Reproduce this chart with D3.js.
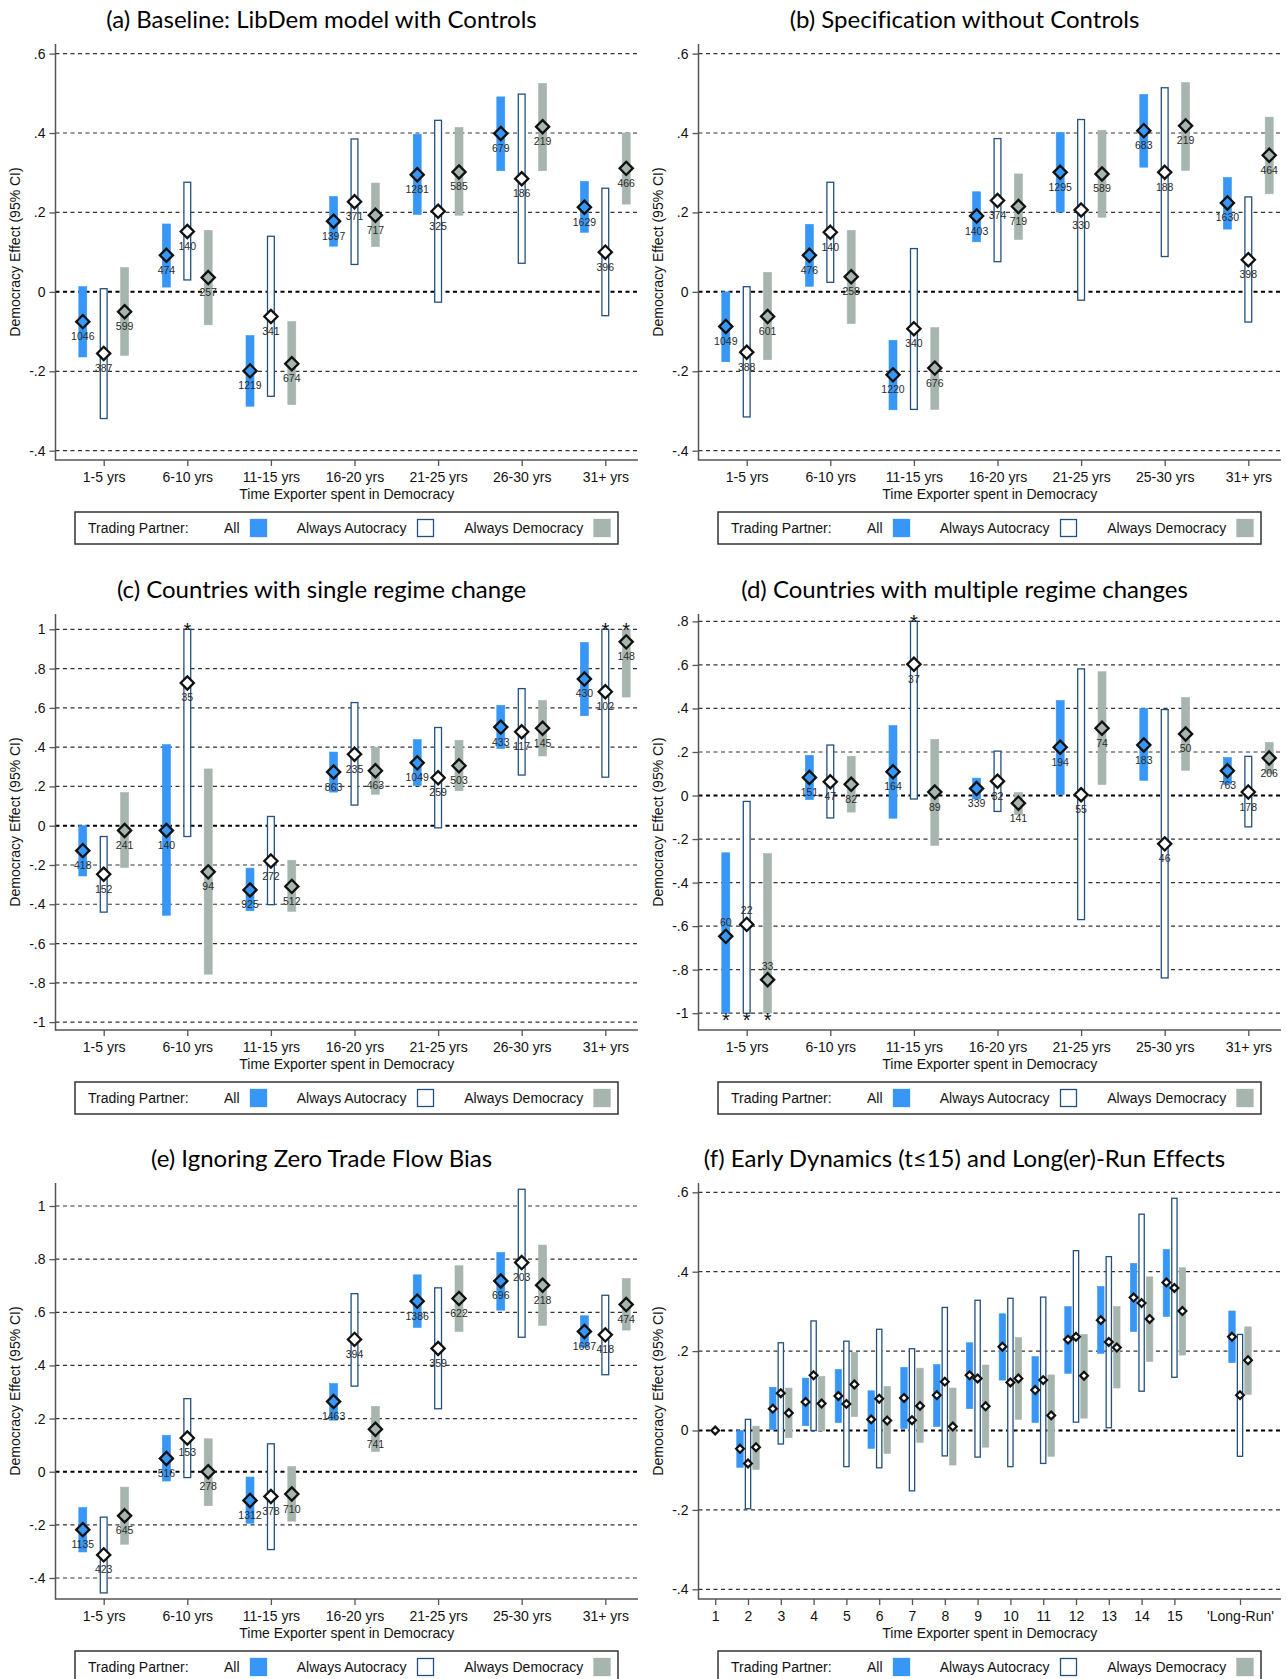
<!DOCTYPE html>
<html>
<head>
<meta charset="utf-8">
<script src="https://cdn.jsdelivr.net/npm/d3@7"></script>
<style>
  body { margin: 0; background: #fff; }
  svg { display: block; }
  text { font-family: "Liberation Sans", Arial, sans-serif; }
  .ptitle { font-family: Lato, "Open Sans", sans-serif; font-size: 24px; font-variant-ligatures: none; }
</style>
</head>
<body>
<script>
// rows are [estimate, lower 95% CI, upper 95% CI, N]
var catsA = ['1-5 yrs', '6-10 yrs', '11-15 yrs', '16-20 yrs', '21-25 yrs', '26-30 yrs', '31+ yrs'];
var catsB = ['1-5 yrs', '6-10 yrs', '11-15 yrs', '16-20 yrs', '21-25 yrs', '25-30 yrs', '31+ yrs'];

var aAll  = [[-0.075,-0.164,0.013,1046],[0.092,0.012,0.171,474],[-0.199,-0.288,-0.110,1219],[0.178,0.115,0.240,1397],[0.295,0.195,0.397,1281],[0.399,0.305,0.491,679],[0.213,0.150,0.278,1629]];
var aAuto = [[-0.155,-0.319,0.008,387],[0.152,0.030,0.276,140],[-0.062,-0.263,0.140,341],[0.227,0.069,0.385,371],[0.203,-0.026,0.432,325],[0.285,0.072,0.498,186],[0.100,-0.060,0.261,396]];
var aDem  = [[-0.050,-0.160,0.061,599],[0.036,-0.083,0.155,257],[-0.181,-0.284,-0.075,674],[0.193,0.114,0.274,717],[0.302,0.193,0.414,585],[0.416,0.305,0.525,219],[0.311,0.221,0.400,466]];

var bAll  = [[-0.087,-0.176,0.0,1049],[0.092,0.014,0.170,476],[-0.209,-0.297,-0.122,1220],[0.191,0.126,0.252,1403],[0.301,0.201,0.401,1295],[0.406,0.314,0.497,683],[0.224,0.158,0.288,1630]];
var bAuto = [[-0.152,-0.315,0.013,388],[0.150,0.024,0.276,140],[-0.093,-0.296,0.109,340],[0.230,0.076,0.386,374],[0.206,-0.021,0.434,330],[0.301,0.089,0.514,188],[0.081,-0.076,0.239,398]];
var bDem  = [[-0.062,-0.171,0.049,601],[0.038,-0.080,0.155,258],[-0.192,-0.296,-0.090,676],[0.215,0.132,0.297,719],[0.297,0.188,0.407,589],[0.418,0.306,0.527,219],[0.344,0.247,0.440,464]];

var cAll  = [[-0.127,-0.256,0.0,418],[-0.024,-0.456,0.413,140],[-0.327,-0.433,-0.216,925],[0.273,0.171,0.375,863],[0.320,0.204,0.438,1049],[0.502,0.393,0.613,433],[0.747,0.560,0.933,430]];
var cAuto = [[-0.247,-0.440,-0.055,152],[0.727,-0.055,1.0,35],[-0.180,-0.402,0.047,272],[0.364,0.105,0.627,235],[0.244,-0.011,0.500,259],[0.478,0.258,0.698,117],[0.682,0.247,1.0,102]];
var cDem  = [[-0.024,-0.213,0.169,241],[-0.235,-0.756,0.289,94],[-0.309,-0.436,-0.176,512],[0.280,0.160,0.400,463],[0.305,0.178,0.435,503],[0.496,0.355,0.638,145],[0.936,0.655,1.0,148]];
var cStars = [[1,'auto','top'],[6,'auto','top'],[6,'dem','top']];

var dAll  = [[-0.647,-1.0,-0.263,60],[0.083,-0.019,0.185,151],[0.109,-0.104,0.321,164],[0.032,-0.016,0.080,339],[0.222,0.004,0.437,194],[0.232,0.070,0.400,183],[0.114,0.052,0.175,763]];
var dAuto = [[-0.592,-1.0,-0.027,22],[0.063,-0.103,0.232,47],[0.603,-0.016,0.8,37],[0.066,-0.073,0.204,32],[0.004,-0.570,0.582,55],[-0.222,-0.838,0.395,46],[0.016,-0.144,0.180,178]];
var dDem  = [[-0.846,-1.0,-0.267,33],[0.052,-0.076,0.180,82],[0.016,-0.229,0.258,89],[-0.035,-0.088,0.014,141],[0.309,0.050,0.569,74],[0.283,0.116,0.450,50],[0.172,0.101,0.244,206]];
var dStars = [[0,'all','bottom'],[0,'auto','bottom'],[0,'dem','bottom'],[2,'auto','top']];
var dLabelsAbove = [0];

var eAll  = [[-0.218,-0.302,-0.135,1135],[0.050,-0.035,0.137,516],[-0.108,-0.194,-0.020,1312],[0.264,0.194,0.332,1463],[0.642,0.543,0.741,1386],[0.718,0.608,0.825,696],[0.528,0.468,0.587,1687]];
var eAuto = [[-0.313,-0.456,-0.171,423],[0.127,-0.022,0.275,153],[-0.093,-0.293,0.105,378],[0.498,0.322,0.670,394],[0.464,0.237,0.692,359],[0.787,0.506,1.063,203],[0.515,0.365,0.664,418]];
var eDem  = [[-0.166,-0.273,-0.058,645],[0.0,-0.128,0.124,278],[-0.084,-0.186,0.019,710],[0.160,0.076,0.246,741],[0.652,0.528,0.775,622],[0.702,0.551,0.853,218],[0.629,0.533,0.727,474]];

// panel f: years 2..15 and the 'Long-Run' slot at 17; year 1 is the reference
var fTicks = [1,2,3,4,5,6,7,8,9,10,11,12,13,14,15,17];
var fTickLabels = ['1','2','3','4','5','6','7','8','9','10','11','12','13','14','15',"'Long-Run'"];
var fPeriods = [2,3,4,5,6,7,8,9,10,11,12,13,14,15,17];
var fRef = [1, 0];
var fAll  = [[-0.046,-0.093,0.0],[0.055,0.002,0.109],[0.072,0.012,0.132],[0.087,0.020,0.154],[0.028,-0.045,0.100],[0.082,0.005,0.159],[0.089,0.010,0.166],[0.139,0.055,0.221],[0.211,0.127,0.294],[0.102,0.020,0.186],[0.229,0.144,0.312],[0.278,0.194,0.363],[0.335,0.249,0.421],[0.373,0.287,0.456],[0.236,0.171,0.301]];
var fAuto = [[-0.083,-0.197,0.028],[0.094,-0.034,0.221],[0.139,0.0,0.276],[0.067,-0.091,0.225],[0.080,-0.094,0.255],[0.026,-0.152,0.206],[0.123,-0.064,0.310],[0.131,-0.067,0.328],[0.121,-0.091,0.333],[0.127,-0.083,0.336],[0.236,0.021,0.453],[0.223,0.007,0.438],[0.321,0.099,0.545],[0.359,0.134,0.585],[0.089,-0.065,0.242]];
var fDem  = [[-0.042,-0.098,0.011],[0.044,-0.018,0.107],[0.068,-0.001,0.136],[0.116,0.035,0.197],[0.025,-0.058,0.111],[0.062,-0.030,0.157],[0.010,-0.087,0.107],[0.061,-0.042,0.165],[0.131,0.028,0.234],[0.038,-0.065,0.140],[0.138,0.031,0.242],[0.209,0.107,0.312],[0.281,0.174,0.387],[0.301,0.190,0.410],[0.177,0.091,0.261]];

var ticks46 = [-0.4,-0.2,0,0.2,0.4,0.6];
var ticks11 = [-1,-0.8,-0.6,-0.4,-0.2,0,0.2,0.4,0.6,0.8,1];
var ticks108 = [-1,-0.8,-0.6,-0.4,-0.2,0,0.2,0.4,0.6,0.8];
var ticks41 = [-0.4,-0.2,0,0.2,0.4,0.6,0.8,1];

var blue = '#3897f6', gray = '#a6b6ae', navy = '#24507e';

var svg = d3.select('body').append('svg').attr('width', 1286).attr('height', 1679);

// Stata style numbers: .6, -.2, 0, 1
function stataFmt(v) {
  if (Math.abs(v) < 1e-9) return '0';
  if (Number.isInteger(v)) return String(v);
  return String(+v.toFixed(1)).replace(/^(-?)0\./, '$1.');
}

function diamond(r) {
  return 'M0,' + (-r) + 'L' + r + ',0L0,' + r + 'L' + (-r) + ',0Z';
}

// plot box inside each panel (window.top is reserved, hence plotTop)
var plotLeft = 55.5, plotRight = 638, plotTop = 44, plotBottom = 460;

function drawPanel(p) {
  var g = svg.append('g').attr('transform', 'translate(' + p.ox + ',' + p.oy + ')');
  var y = d3.scaleLinear().domain(p.yDomain).range(p.yRange);
  var x = d3.scaleLinear().domain(p.xDomain).range(p.xRange);

  g.append('text').attr('class', 'ptitle')
    .attr('x', 321.5).attr('y', 27.5).attr('text-anchor', 'middle')
    .text(p.title);

  // gridlines
  g.selectAll('line.grid').data(p.yTicks).join('line')
    .attr('class', 'grid')
    .attr('x1', plotLeft).attr('x2', plotRight)
    .attr('y1', function(d) { return y(d); }).attr('y2', function(d) { return y(d); })
    .attr('stroke', function(d) { return d === 0 ? '#000' : '#333'; })
    .attr('stroke-width', function(d) { return d === 0 ? 2 : 1.2; })
    .attr('stroke-dasharray', '4,3.5');

  // axes
  var yAxis = d3.axisLeft(y).tickValues(p.yTicks).tickFormat(stataFmt).tickSize(6).tickPadding(4);
  var ya = g.append('g').attr('transform', 'translate(' + plotLeft + ',0)').call(yAxis);
  var xAxis = d3.axisBottom(x).tickValues(p.xTicks)
    .tickFormat(function(d, i) { return p.xLabels[i]; })
    .tickSize(6).tickPadding(6.5);
  var xa = g.append('g').attr('transform', 'translate(0,' + plotBottom + ')').call(xAxis);
  [ya, xa].forEach(function(a) {
    a.select('.domain').remove();
    a.selectAll('line').attr('stroke', '#555').attr('stroke-width', 1.3);
    a.selectAll('text').attr('font-size', 14).attr('fill', '#111')
      .style('font-family', '"Liberation Sans", Arial, sans-serif');
  });
  g.append('line').attr('x1', plotLeft).attr('x2', plotLeft).attr('y1', plotTop).attr('y2', plotBottom + 0.7)
    .attr('stroke', '#555').attr('stroke-width', 1.5);
  g.append('line').attr('x1', plotLeft).attr('x2', plotRight).attr('y1', plotBottom).attr('y2', plotBottom)
    .attr('stroke', '#555').attr('stroke-width', 1.5);

  g.append('text').attr('transform', 'rotate(-90)')
    .attr('x', -(plotTop + plotBottom) / 2).attr('y', 14.5)
    .attr('text-anchor', 'middle').attr('dominant-baseline', 'central')
    .attr('font-size', 14).attr('fill', '#111')
    .text('Democracy Effect (95% CI)');
  g.append('text').attr('x', (plotLeft + plotRight) / 2).attr('y', 498.5)
    .attr('text-anchor', 'middle').attr('font-size', 14).attr('fill', '#111')
    .text('Time Exporter spent in Democracy');

  var series = [
    { key: 'all', rows: p.all, fill: blue, stroke: blue, off: -p.offset },
    { key: 'auto', rows: p.auto, fill: '#fff', stroke: navy, off: 0 },
    { key: 'dem', rows: p.dem, fill: gray, stroke: gray, off: p.offset }
  ];
  var bw = p.barW;

  series.forEach(function(s) {
    g.selectAll('rect.bar-' + s.key).data(s.rows).join('rect')
      .attr('class', 'bar-' + s.key)
      .attr('x', function(d, i) { return x(p.pos[i]) + s.off - bw / 2 + (s.key === 'auto' ? 0.6 : 0); })
      .attr('width', s.key === 'auto' ? bw - 1.2 : bw)
      .attr('y', function(d) { return y(d[2]); })
      .attr('height', function(d) { return y(d[1]) - y(d[2]); })
      .attr('fill', s.fill)
      .attr('stroke', s.stroke)
      .attr('stroke-width', s.key === 'auto' ? 1.3 : 0.6);
  });

  series.forEach(function(s) {
    g.selectAll('path.mk-' + s.key).data(s.rows).join('path')
      .attr('class', 'mk-' + s.key)
      .attr('d', diamond(p.markerR))
      .attr('transform', function(d, i) { return 'translate(' + (x(p.pos[i]) + s.off) + ',' + y(d[0]) + ')'; })
      .attr('fill', p.markerFill || s.fill)
      .attr('stroke', '#111')
      .attr('stroke-width', p.markerStroke);
  });

  if (p.showN) {
    var above = p.labelsAbove || [];
    series.forEach(function(s) {
      g.selectAll('text.n-' + s.key).data(s.rows).join('text')
        .attr('class', 'n-' + s.key)
        .attr('x', function(d, i) { return x(p.pos[i]) + s.off; })
        .attr('y', function(d, i) { return y(d[0]) + (above.indexOf(i) >= 0 ? -10 : 18.5); })
        .attr('text-anchor', 'middle').attr('font-size', 10.5).attr('fill', '#2a2a2a')
        .text(function(d) { return d[3]; });
    });
  }

  (p.stars || []).forEach(function(st) {
    var s = series.filter(function(q) { return q.key === st[1]; })[0];
    var row = s.rows[st[0]];
    var v = st[2] === 'top' ? row[2] : row[1];
    g.append('text')
      .attr('x', x(p.pos[st[0]]) + s.off)
      .attr('y', y(v) + (st[2] === 'top' ? 7.5 : 13.5))
      .attr('text-anchor', 'middle').attr('font-size', 20).attr('fill', '#111')
      .text('*');
  });

  if (p.ref) {
    g.append('path').attr('d', diamond(p.markerR))
      .attr('transform', 'translate(' + x(p.ref[0]) + ',' + y(p.ref[1]) + ')')
      .attr('fill', '#fff').attr('stroke', '#111').attr('stroke-width', p.markerStroke);
  }

  // legend
  var lg = g.append('g');
  lg.append('rect').attr('x', 75).attr('y', 512).attr('width', 543).attr('height', 32)
    .attr('fill', '#fff').attr('stroke', '#333').attr('stroke-width', 1.5);
  lg.append('text').attr('x', 88).attr('y', 533).attr('font-size', 14).attr('fill', '#111').text('Trading Partner:');
  var items = [
    { label: 'All', end: 239.5, sx: 250.5, fill: blue, stroke: blue },
    { label: 'Always Autocracy', end: 406.5, sx: 417.5, fill: '#fff', stroke: navy },
    { label: 'Always Democracy', end: 583.3, sx: 594, fill: gray, stroke: gray }
  ];
  items.forEach(function(it) {
    lg.append('text').attr('x', it.end).attr('y', 533).attr('text-anchor', 'end')
      .attr('font-size', 14).attr('fill', '#111').text(it.label);
    lg.append('rect').attr('x', it.sx).attr('y', 519.5).attr('width', 16).attr('height', 17)
      .attr('fill', it.fill).attr('stroke', it.stroke).attr('stroke-width', 1.3);
  });
}

var catPos = [0, 1, 2, 3, 4, 5, 6];
var catX = { xDomain: [0, 6], xRange: [103.7, 605.3], xTicks: catPos, pos: catPos,
             offset: 20.9, barW: 8, markerR: 6.6, markerStroke: 2.3, showN: true };

drawPanel(Object.assign({}, catX, {
  ox: 0, oy: 0, title: '(a) Baseline: LibDem model with Controls', xLabels: catsA,
  yTicks: ticks46, yDomain: [-0.4, 0.6], yRange: [450.7, 53.6],
  all: aAll, auto: aAuto, dem: aDem
}));
drawPanel(Object.assign({}, catX, {
  ox: 643, oy: 0, title: '(b) Specification without Controls', xLabels: catsB,
  yTicks: ticks46, yDomain: [-0.4, 0.6], yRange: [450.7, 53.6],
  all: bAll, auto: bAuto, dem: bDem
}));
drawPanel(Object.assign({}, catX, {
  ox: 0, oy: 570, title: '(c) Countries with single regime change', xLabels: catsA,
  yTicks: ticks11, yDomain: [-1, 1], yRange: [452.1, 59.3],
  all: cAll, auto: cAuto, dem: cDem, stars: cStars
}));
drawPanel(Object.assign({}, catX, {
  ox: 643, oy: 570, title: '(d) Countries with multiple regime changes', xLabels: catsB,
  yTicks: ticks108, yDomain: [-1, 0.8], yRange: [443.2, 51.4],
  all: dAll, auto: dAuto, dem: dDem, stars: dStars, labelsAbove: dLabelsAbove
}));
drawPanel(Object.assign({}, catX, {
  ox: 0, oy: 1139, title: '(e) Ignoring Zero Trade Flow Bias', xLabels: catsB,
  yTicks: ticks41, yDomain: [-0.4, 1], yRange: [439, 67],
  all: eAll, auto: eAuto, dem: eDem
}));
drawPanel({
  ox: 643, oy: 1139, title: '(f) Early Dynamics (t\u226415) and Long(er)-Run Effects',
  xDomain: [1, 17], xRange: [72.2, 597], xTicks: fTicks, xLabels: fTickLabels, pos: fPeriods,
  offset: 8, barW: 6.5, markerR: 3.9, markerStroke: 2.2, markerFill: '#fff', showN: false,
  yTicks: ticks46, yDomain: [-0.4, 0.6], yRange: [450.3, 53.3],
  all: fAll, auto: fAuto, dem: fDem, ref: fRef
});
</script>
</body>
</html>
